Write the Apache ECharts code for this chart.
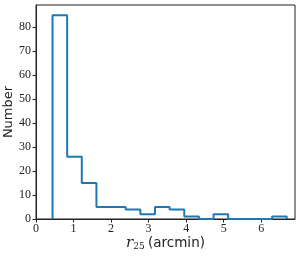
<!DOCTYPE html>
<html><head><meta charset="utf-8">
<script src="https://cdn.jsdelivr.net/npm/echarts@6/dist/echarts.min.js"></script>
<style>html,body{margin:0;padding:0;background:#fff}#c{width:300px;height:256px}</style>
</head><body><div id="c"></div>
<script>
const binEdges = [0.44,0.83,1.22,1.61,2.00,2.39,2.78,3.17,3.56,3.95,4.34,4.73,5.12,5.51,5.90,6.29,6.68];
const counts = [85,26,15,5,5,4,2,5,4,1,0,2,0,0,0,1];
const xTicks = [0,1,2,3,4,5,6];
const yTicks = [0,10,20,30,40,50,60,70,80];

const pts = [[binEdges[0],0]];
for (let i=0;i<counts.length;i++){ pts.push([binEdges[i],counts[i]]); pts.push([binEdges[i+1],counts[i]]); }
pts.push([binEdges[binEdges.length-1],0]);

const serif = '"Liberation Serif", serif';
const chart = echarts.init(document.getElementById('c'), null, {renderer:'canvas'});
chart.setOption({
  animation:false,
  grid:{left:36,right:5,top:5,bottom:37,containLabel:false,outerBoundsMode:'none',show:true,borderColor:'#222',borderWidth:1,backgroundColor:'transparent'},
  xAxis:{type:'value',min:0,max:6.9,
    axisLine:{onZero:false,lineStyle:{color:'#222',width:1}},
    axisTick:{customValues:xTicks,length:3.5,lineStyle:{color:'#222'}},
    axisLabel:{customValues:xTicks,color:'#222',fontFamily:serif,fontSize:12,margin:4},
    splitLine:{show:false},
    name:'{r|r}{s|25} {t|(arcmin)}',nameLocation:'middle',nameGap:16,nameMoveOverlap:false,
    nameTextStyle:{verticalAlign:'top',rich:{
      r:{fontFamily:'"DejaVu Serif", serif',fontStyle:'italic',fontSize:15,color:'#222'},
      s:{fontFamily:'"DejaVu Serif", serif',fontSize:9,color:'#222',verticalAlign:'bottom',padding:[7,0,0,0]},
      t:{fontFamily:'"DejaVu Sans", sans-serif',fontSize:13.5,color:'#222'}
    }}
  },
  yAxis:{type:'value',min:0,max:89.25,
    axisLine:{show:true,lineStyle:{color:'#222',width:1}},
    axisTick:{show:true,customValues:yTicks,length:3.5,lineStyle:{color:'#222'}},
    axisLabel:{customValues:yTicks,color:'#222',fontFamily:serif,fontSize:12,margin:5},
    splitLine:{show:false},
    name:'Number',nameLocation:'middle',nameGap:21,nameMoveOverlap:false,
    nameTextStyle:{fontFamily:'"DejaVu Sans", sans-serif',fontSize:13,color:'#222'}
  },
  series:[{type:'line',data:pts,symbol:'none',lineStyle:{color:'#1f77b4',width:2},clip:false}]
});
</script></body></html>
